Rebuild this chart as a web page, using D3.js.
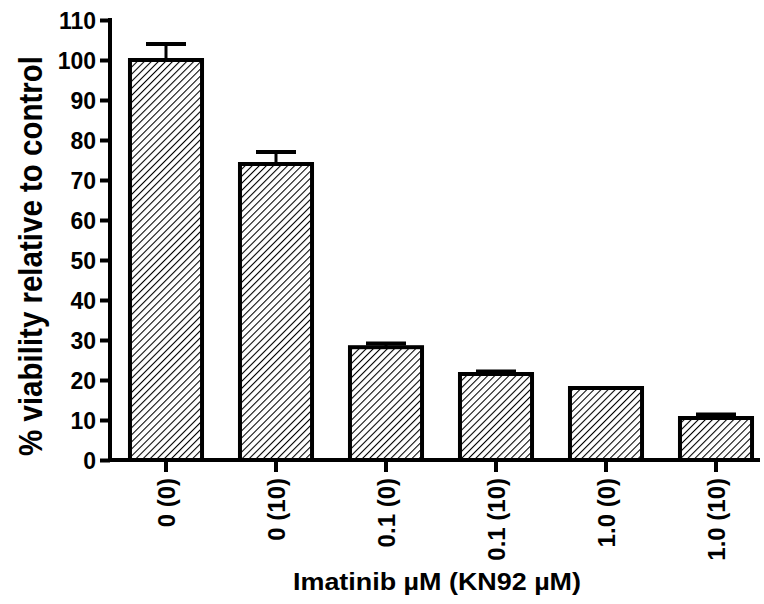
<!DOCTYPE html>
<html>
<head>
<meta charset="utf-8">
<script src="https://cdn.jsdelivr.net/npm/d3@7"></script>
<style>
  body { margin: 0; background: #fff; }
  text { font-family: "Liberation Sans", Arial, sans-serif; font-weight: bold; fill: #000; }
</style>
</head>
<body>
<div id="chart"></div>
<script>
const CATEGORIES = ["0 (0)", "0 (10)", "0.1 (0)", "0.1 (10)", "1.0 (0)", "1.0 (10)"];
const VIABILITY = [100, 74, 28.2, 21.5, 18, 10.5];
const ERROR_UP = [4, 3, 0.9, 0.6, 0, 0.9];
const Y_TICKS = [0, 10, 20, 30, 40, 50, 60, 70, 80, 90, 100, 110];

const WIDTH = 764;
const HEIGHT = 604;
const LEFT = 110;
const BOTTOM = 460;
const TOP = 20;
const STROKE_WIDTH = 4;

const svg = d3.select('#chart')
  .append('svg')
  .attr('width', WIDTH)
  .attr('height', HEIGHT);

// hatch pattern
svg.append('defs')
  .append('pattern')
  .attr('id', 'hatch')
  .attr('patternUnits', 'userSpaceOnUse')
  .attr('width', 5)
  .attr('height', 5)
  .attr('patternTransform', 'rotate(45)')
  .append('line')
  .attr('x1', 0).attr('y1', 0)
  .attr('x2', 0).attr('y2', 5)
  .attr('stroke', '#000')
  .attr('stroke-width', 2.1);

const x = d3.scaleBand()
  .domain(CATEGORIES)
  .range([111, 771])
  .paddingInner(0.345)
  .paddingOuter(0.1725);

const y = d3.scaleLinear()
  .domain([0, 110])
  .range([BOTTOM, TOP]);

// bars
svg.selectAll('.bar')
  .data(CATEGORIES)
  .enter()
  .append('rect')
  .attr('class', 'bar')
  .attr('x', d => x(d))
  .attr('width', x.bandwidth())
  .attr('y', (d, i) => y(VIABILITY[i]))
  .attr('height', (d, i) => y(0) - y(VIABILITY[i]))
  .attr('fill', 'url(#hatch)')
  .attr('stroke', '#000')
  .attr('stroke-width', STROKE_WIDTH);

// error bars (upper only)
const errs = svg.selectAll('.err')
  .data(CATEGORIES.filter((d, i) => ERROR_UP[i] > 0.3))
  .enter()
  .append('g')
  .attr('class', 'err');

const barCenter = d => x(d) + x.bandwidth() / 2;
const errTop = d => { const i = CATEGORIES.indexOf(d); return y(VIABILITY[i] + ERROR_UP[i]); };

errs.append('line')
  .attr('x1', barCenter)
  .attr('x2', barCenter)
  .attr('y1', d => y(VIABILITY[CATEGORIES.indexOf(d)]))
  .attr('y2', errTop)
  .attr('stroke', '#000')
  .attr('stroke-width', 3);

errs.append('line')
  .attr('x1', d => barCenter(d) - 20)
  .attr('x2', d => barCenter(d) + 20)
  .attr('y1', errTop)
  .attr('y2', errTop)
  .attr('stroke', '#000')
  .attr('stroke-width', 4);

// y axis
const yAxis = d3.axisLeft(y)
  .tickValues(Y_TICKS)
  .tickSize(10)
  .tickPadding(4);

const gy = svg.append('g')
  .attr('transform', `translate(${LEFT}, 0)`)
  .call(yAxis);
gy.select('.domain').remove();
gy.selectAll('line').attr('stroke', '#000').attr('stroke-width', STROKE_WIDTH);
gy.selectAll('text')
  .style('font-size', '23px')
  .attr('dy', '0.36em');

// x axis
const xAxis = d3.axisBottom(x)
  .tickSize(12)
  .tickSizeOuter(0);

const gx = svg.append('g')
  .attr('transform', `translate(0, ${BOTTOM})`)
  .call(xAxis);
gx.select('.domain').remove();
gx.selectAll('line').attr('stroke', '#000').attr('stroke-width', STROKE_WIDTH);
gx.selectAll('text')
  .style('font-size', '24px')
  .style('text-anchor', 'end')
  .attr('x', -18)
  .attr('y', 0)
  .attr('dy', '0.36em')
  .attr('transform', 'rotate(-90)');

// axis lines
svg.append('line')
  .attr('x1', LEFT).attr('x2', LEFT)
  .attr('y1', y(110) - 2).attr('y2', BOTTOM + 2)
  .attr('stroke', '#000')
  .attr('stroke-width', STROKE_WIDTH);
svg.append('line')
  .attr('x1', LEFT - 2).attr('x2', 760)
  .attr('y1', BOTTOM).attr('y2', BOTTOM)
  .attr('stroke', '#000')
  .attr('stroke-width', STROKE_WIDTH);

// axis titles
svg.append('text')
  .attr('transform', `translate(42, 256) scale(1.12, 1) rotate(-90)`)
  .style('font-size', '29.5px')
  .style('text-anchor', 'middle')
  .text('% viability relative to control');

svg.append('text')
  .attr('transform', `translate(437, 590) scale(1.17, 1)`)
  .style('font-size', '23px')
  .style('text-anchor', 'middle')
  .text('Imatinib µM (KN92 µM)');
</script>
</body>
</html>
